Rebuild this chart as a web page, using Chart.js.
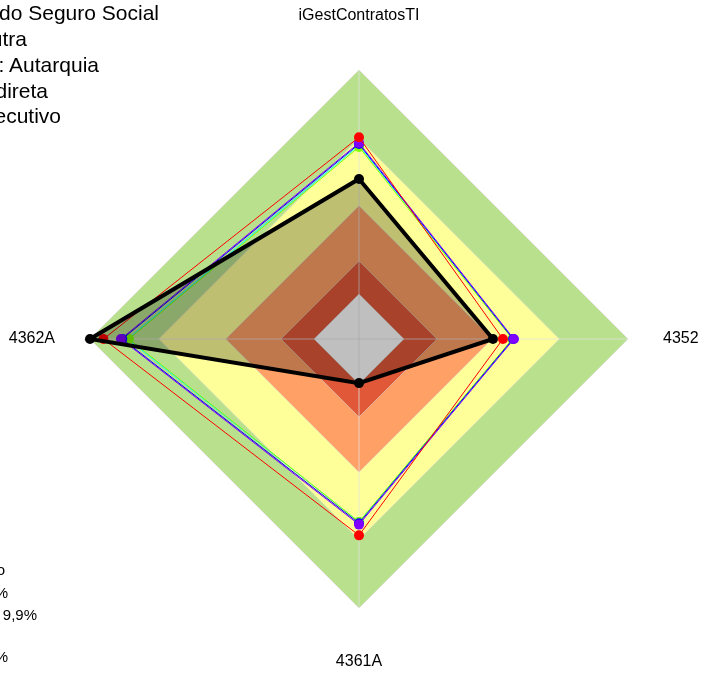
<!DOCTYPE html>
<html>
<head>
<meta charset="utf-8">
<script src="https://cdn.jsdelivr.net/npm/chart.js@4/dist/chart.umd.min.js"></script>
<style>
  html, body { margin: 0; padding: 0; background: #fff; }
  #wrap { position: relative; width: 701px; height: 673px; overflow: hidden; font-family: "Liberation Sans", Arial, sans-serif; }
  #radar { position: absolute; left: 0; top: 0; }
  .leg { position: absolute; white-space: nowrap; text-align: right; color: #000; }
  .top-leg { font-size: 21px; line-height: 21px; }
  .bot-leg { font-size: 15px; line-height: 15px; }
</style>
</head>
<body>
<div id="wrap">
  <canvas id="radar" width="701" height="673"></canvas>
</div>
<script>
// axes, clockwise from the top
var axisLabels = ['iGestContratosTI', '4352', '4361A', '4362A'];

// series values (percent)
var orgValues    = [59.5, 49.8, 16.4, 100];
var redValues    = [75, 53.5, 73, 95];
var purpleValues = [72.9, 57.6, 69, 88.5];
var blueValues   = [72.5, 57.3, 68.5, 88];
var limeValues   = [71.4, 57, 68, 85.5];
var cyanValues   = [72, 57.5, 68, 86];

// background bands (percent), inner to outer
var bandWhite  = [16.7, 16.7, 16.7, 16.7];
var bandRed    = [29, 29, 29, 29];
var bandOrange = [49.5, 49.5, 49.5, 49.5];
var bandYellow = [74.5, 74.5, 74.5, 74.5];
var bandGreen  = [100, 100, 100, 100];

// legend texts (cut off at the left edge like in the picture)
var seriesNames = ['Instituto Nacional do Seguro Social', 'Segmento: Outra', 'Natureza jurídica: Autarquia', 'Administração indireta', 'Poder Executivo'];
var levelNames = ['Estágio', 'Aprimorado: 75% a 100%', 'Inicial: até 9,9%', 'Iniciando', 'Inexpressivo: 0% a 16,9%'];

var wrap = document.getElementById('wrap');

function addLegend(texts, cls, rightEdges, baselines, shift) {
    texts.forEach(function (t, i) {
        var d = document.createElement('div');
        d.className = 'leg ' + cls;
        d.textContent = t;
        d.style.right = (701 - rightEdges[i]) + 'px';
        d.style.top = (baselines[i] - shift) + 'px';
        wrap.appendChild(d);
    });
}
addLegend(seriesNames, 'top-leg', [159, 27, 99, 48, 61], [20, 46, 72, 98, 123], 18);
addLegend(levelNames, 'bot-leg', [5, 8, 37, -4, 8], [575, 598, 620, 640, 662], 13);

function series(values, color, width) {
    return {
        data: values,
        borderColor: color,
        borderWidth: width,
        pointRadius: 5,
        pointBorderWidth: 0,
        pointBackgroundColor: color,
        fill: false
    };
}

function band(values, color) {
    return {
        data: values,
        borderColor: 'rgba(215,215,215,0.55)',
        borderWidth: 1,
        backgroundColor: color,
        pointRadius: 0,
        fill: 'origin'
    };
}

var black = series(orgValues, '#000000', 4);
black.fill = 'origin';
black.backgroundColor = 'rgba(0,0,0,0.25)';

var datasets = [
    black,
    series(redValues, '#ff0000', 1),
    series(purpleValues, '#8000ff', 1),
    series(blueValues, '#0000ff', 1),
    series(limeValues, '#80ff00', 1),
    series(cyanValues, '#00ffff', 1),
    band(bandWhite, '#ffffff'),
    band(bandRed, '#e05838'),
    band(bandOrange, '#ffa066'),
    band(bandYellow, '#ffff99'),
    band(bandGreen, '#b9e08c')
];
var innerBandIndex = 6;

// spokes drawn over the bands but under the series
var spokes = {
    id: 'spokes',
    afterDatasetDraw: function (chart, args) {
        if (args.index !== innerBandIndex) return;
        var s = chart.scales.r, ctx = chart.ctx;
        ctx.save();
        ctx.strokeStyle = 'rgba(225,225,225,0.75)';
        ctx.lineWidth = 1;
        for (var i = 0; i < axisLabels.length; i++) {
            var p = s.getPointPosition(i, s.drawingArea);
            ctx.beginPath();
            ctx.moveTo(s.xCenter, s.yCenter);
            ctx.lineTo(p.x, p.y);
            ctx.stroke();
        }
        ctx.restore();
    }
};

// axis names
var axisNames = {
    id: 'axisNames',
    afterDatasetsDraw: function (chart) {
        var s = chart.scales.r, ctx = chart.ctx;
        ctx.save();
        ctx.font = '16px "Liberation Sans", Arial, sans-serif';
        ctx.fillStyle = '#000';
        ctx.textBaseline = 'middle';
        chart.data.labels.forEach(function (lbl, i) {
            var vertical = (i % 2 === 0);
            var p = s.getPointPosition(i, s.drawingArea + (vertical ? 54 : 35));
            ctx.textAlign = vertical ? 'center' : (p.x > s.xCenter ? 'left' : 'right');
            ctx.fillText(lbl, p.x, p.y);
        });
        ctx.restore();
    }
};

new Chart(document.getElementById('radar'), {
    type: 'radar',
    data: { labels: axisLabels, datasets: datasets },
    plugins: [spokes, axisNames],
    options: {
        responsive: false,
        animation: false,
        devicePixelRatio: 1,
        layout: { padding: { left: 90, right: 73, top: 70, bottom: 65 } },
        elements: { line: { tension: 0 } },
        scales: {
            r: {
                min: 0,
                max: 100,
                ticks: { display: false },
                grid: { display: false },
                angleLines: { display: false },
                pointLabels: { display: false }
            }
        },
        plugins: {
            legend: { display: false },
            tooltip: { enabled: false }
        }
    }
});
</script>
</body>
</html>
